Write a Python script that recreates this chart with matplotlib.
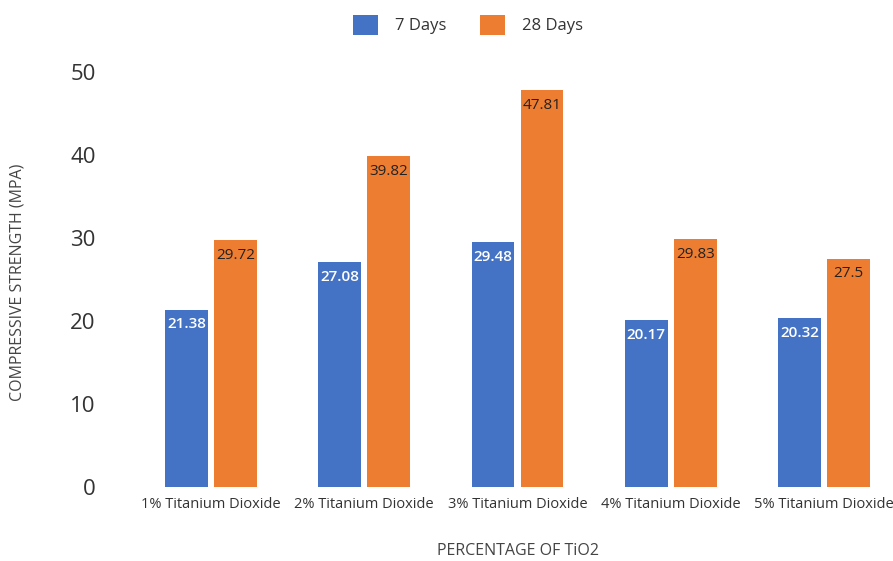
import numpy as np
import matplotlib
matplotlib.use("Agg")
import matplotlib.pyplot as plt

plt.rcParams['font.family'] = ['Open Sans', 'DejaVu Sans']

categories = ['1% Titanium Dioxide', '2% Titanium Dioxide', '3% Titanium Dioxide',
              '4% Titanium Dioxide', '5% Titanium Dioxide']
days7 = [21.38, 27.08, 29.48, 20.17, 20.32]
days28 = [29.72, 39.82, 47.81, 29.83, 27.5]
days7_labels = ['21.38', '27.08', '29.48', '20.17', '20.32']
days28_labels = ['29.72', '39.82', '47.81', '29.83', '27.5']
yticks = [0, 10, 20, 30, 40, 50]

blue = '#4472C4'
orange = '#ED7D31'

fig = plt.figure(figsize=(8.93, 5.61), dpi=100)
# axes extend a little past the right edge, so the last group is cut off
ax = fig.add_axes([134.5 / 893, 1 - 487 / 561, 766 / 893, 415 / 561])

x = np.arange(len(categories))
w = 0.28
off = 0.16
b1 = ax.bar(x - off, days7, w, color=blue, label='7 Days', zorder=2)
b2 = ax.bar(x + off, days28, w, color=orange, label='28 Days', zorder=2)

for rect, lab in zip(b1, days7_labels):
    ax.text(rect.get_x() + rect.get_width() / 2, rect.get_height() - 1.8, lab,
            ha='center', va='center', color='white', fontsize=11, fontweight='semibold')
for rect, lab in zip(b2, days28_labels):
    ax.text(rect.get_x() + rect.get_width() / 2, rect.get_height() - 1.8, lab,
            ha='center', va='center', color='#222222', fontsize=11)

ax.set_xlim(-0.5, len(categories) - 0.5)
ax.set_ylim(0, 50)
ax.set_yticks(yticks)
ax.set_yticklabels([str(t) for t in yticks], fontsize=16, color='#333333')
ax.set_xticks(x)
ax.set_xticklabels(categories, fontsize=10.5, color='#333333')
ax.tick_params(axis='both', length=0)
ax.tick_params(axis='y', pad=28)
ax.tick_params(axis='x', pad=7)
for s in ax.spines.values():
    s.set_visible(False)

fig.text(18 / 893, 1 - 282 / 561, 'COMPRESSIVE STRENGTH (MPA)', rotation=90,
         ha='center', va='center', fontsize=11.5, color='#444444')
fig.text(518 / 893, 1 - 551 / 561, 'PERCENTAGE OF TiO2', ha='center', va='center',
         fontsize=11.5, color='#444444')

leg = fig.legend(handles=[b1, b2], loc='center', bbox_to_anchor=(468 / 893, 1 - 25 / 561),
                 ncol=2, frameon=False, fontsize=12, handlelength=1.5, handleheight=1.5,
                 columnspacing=2.0, handletextpad=1.0)
for t in leg.get_texts():
    t.set_color('#333333')

fig.savefig('out.png', dpi=100)
